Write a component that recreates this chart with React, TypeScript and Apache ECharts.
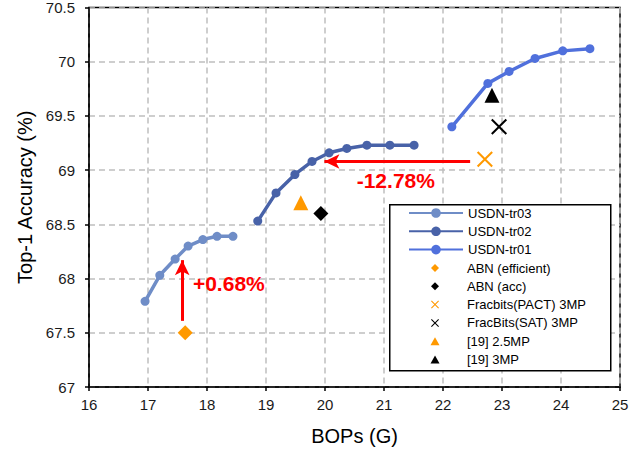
import React, { useEffect, useRef } from "react";
import * as echarts from "echarts";

// ---- data ----
const tr03X = [16.95, 17.2, 17.46, 17.68, 17.93, 18.17, 18.44];
const tr03Y = [67.79, 68.03, 68.18, 68.3, 68.36, 68.39, 68.39];
const tr02X = [18.86, 19.17, 19.49, 19.78, 20.07, 20.37, 20.71, 21.1, 21.51];
const tr02Y = [68.53, 68.79, 68.96, 69.08, 69.16, 69.2, 69.23, 69.23, 69.23];
const tr01X = [22.15, 22.76, 23.12, 23.56, 24.03, 24.49];
const tr01Y = [69.4, 69.8, 69.91, 70.03, 70.1, 70.12];

const abnEfficient = [17.63, 67.5];
const abnAcc = [19.93, 68.6];
const fracPact = [22.71, 69.1];
const fracSat = [22.95, 69.4];
const ref19_25 = [19.59, 68.7];
const ref19_3 = [22.83, 69.69];

const upArrow = [[17.58, 67.61], [17.58, 68.17]];
const leftArrow = [[22.46, 69.08], [19.99, 69.08]];
const upLabel = { text: "+0.68%", at: [18.37, 67.95] };
const leftLabel = { text: "-12.78%", at: [21.2, 68.9] };

const xTicks = { min: 16, max: 25, interval: 1 };
const yTicks = { min: 67, max: 70.5, interval: 0.5 };

const FONT = "Arial, 'Liberation Sans', sans-serif";
const ORANGE = "#FF9900";
const RED = "#FF0000";
const CROSS =
  "path://M0,0.9 L0.9,0 L5,4.1 L9.1,0 L10,0.9 L5.9,5 L10,9.1 L9.1,10 L5,5.9 L0.9,10 L0,9.1 L4.1,5 Z";

// legend icons drawn inside the full 54x8 legend icon box (corner anchors keep the aspect)
const BOX = "M0,0 M54,8 ";
const LEG_DIAMOND = "path://" + BOX + "M27,0 L31,4 L27,8 L23,4 Z";
const LEG_TRIANGLE = "path://" + BOX + "M27,0 L31.5,8 L22.5,8 Z";
const LEG_CROSS =
  "path://" +
  BOX +
  "M23,0.75 L23.75,0 L27,3.25 L30.25,0 L31,0.75 L27.75,4 L31,7.25 L30.25,8 L27,4.75 L23.75,8 L23,7.25 L26.25,4 Z";

const zip = (xs: number[], ys: number[]) => xs.map((x, i) => [x, ys[i]]);

export default function App() {
  const ref = useRef<HTMLDivElement>(null);
  useEffect(() => {
    if (!ref.current) return;
    const chart = echarts.init(ref.current, null, { renderer: "svg" });
    const lineSeries = (name: string, xs: number[], ys: number[], color: string) => ({
      name,
      type: "line",
      data: zip(xs, ys),
      symbol: "circle",
      symbolSize: 9,
      lineStyle: { width: 3.5, color },
      itemStyle: { color },
      z: 3,
    });
    const scatter = (name: string, pt: number[], symbol: string, size: number, color: string) => ({
      name,
      type: "scatter",
      data: [pt],
      symbol,
      symbolSize: size,
      itemStyle: { color, opacity: 1 },
      z: 4,
    });
    const legendText = { fontFamily: FONT, fontSize: 13, color: "#000" };
    chart.setOption({
      animation: false,
      backgroundColor: "#fff",
      grid: {
        left: 89,
        right: 23,
        top: 6,
        bottom: 65,
        show: true,
        borderColor: "#000",
        borderWidth: 1.5,
      },
      xAxis: {
        type: "value",
        ...xTicks,
        name: "BOPs (G)",
        nameLocation: "middle",
        nameGap: 39,
        nameTextStyle: { fontFamily: FONT, fontSize: 20, color: "#000" },
        axisLine: { lineStyle: { color: "#000", width: 1.5 } },
        axisTick: { show: true, length: 4, lineStyle: { color: "#000", width: 1.5 } },
        axisLabel: { fontFamily: FONT, fontSize: 15, color: "#1a1a1a", margin: 10 },
        splitLine: { show: true, lineStyle: { color: "#BFBFBF", width: 1.5, type: [6, 4] } },
      },
      yAxis: {
        type: "value",
        ...yTicks,
        name: "Top-1 Accuracy (%)",
        nameLocation: "middle",
        nameGap: 52,
        nameTextStyle: { fontFamily: FONT, fontSize: 20, color: "#000" },
        axisLine: { lineStyle: { color: "#000", width: 1.5 } },
        axisTick: { show: true, length: 4, lineStyle: { color: "#000", width: 1.5 } },
        axisLabel: { fontFamily: FONT, fontSize: 15, color: "#1a1a1a", margin: 14 },
        splitLine: { show: true, lineStyle: { color: "#BFBFBF", width: 1.5, type: [6, 4] } },
      },
      graphic: [
        {
          type: "rect",
          left: 389,
          top: 204,
          shape: { width: 221, height: 166 },
          style: { fill: "#fff", stroke: "#000", lineWidth: 1.5 },
          z: 3,
        },
      ],
      legend: [
        {
          orient: "vertical",
          left: 408,
          top: 206.5,
          padding: 0,
          itemWidth: 54,
          itemHeight: 12,
          itemGap: 5.3,
          selectedMode: false,
          textStyle: legendText,
          data: ["USDN-tr03", "USDN-tr02", "USDN-tr01"],
          z: 5,
        },
        {
          orient: "vertical",
          left: 408,
          top: 261.5,
          padding: 0,
          itemWidth: 54,
          itemHeight: 8,
          itemGap: 5.3,
          selectedMode: false,
          textStyle: legendText,
          itemStyle: { opacity: 1 },
          data: [
            { name: "ABN (efficient)", icon: LEG_DIAMOND },
            { name: "ABN (acc)", icon: LEG_DIAMOND },
            { name: "Fracbits(PACT) 3MP", icon: LEG_CROSS },
            { name: "FracBits(SAT) 3MP", icon: LEG_CROSS },
            { name: "[19] 2.5MP", icon: LEG_TRIANGLE },
            { name: "[19] 3MP", icon: LEG_TRIANGLE },
          ],
          z: 5,
        },
      ],
      series: [
        lineSeries("USDN-tr03", tr03X, tr03Y, "#6F8DC7"),
        lineSeries("USDN-tr02", tr02X, tr02Y, "#4862A8"),
        lineSeries("USDN-tr01", tr01X, tr01Y, "#5070DC"),
        scatter("ABN (efficient)", abnEfficient, "diamond", 15, ORANGE),
        scatter("ABN (acc)", abnAcc, "diamond", 15, "#000"),
        scatter("Fracbits(PACT) 3MP", fracPact, CROSS, 16, ORANGE),
        scatter("FracBits(SAT) 3MP", fracSat, CROSS, 16, "#000"),
        scatter("[19] 2.5MP", ref19_25, "triangle", 15, ORANGE),
        scatter("[19] 3MP", ref19_3, "triangle", 15, "#000"),
        {
          name: "annotations",
          type: "line",
          data: [],
          silent: true,
          z: 5,
          markLine: {
            silent: true,
            symbol: ["none", "arrow"],
            symbolSize: [11, 15],
            label: { show: false },
            lineStyle: { color: RED, width: 3, type: "solid" },
            data: [
              [{ coord: upArrow[0] }, { coord: upArrow[1] }],
              [{ coord: leftArrow[0] }, { coord: leftArrow[1] }],
            ],
          },
          markPoint: {
            silent: true,
            symbol: "circle",
            symbolSize: 1,
            itemStyle: { color: "rgba(0,0,0,0)" },
            label: {
              show: true,
              position: "inside",
              fontFamily: FONT,
              fontSize: 21,
              fontWeight: "bold",
              color: RED,
              formatter: (p: any) => p.name,
            },
            data: [
              { name: upLabel.text, coord: upLabel.at },
              { name: leftLabel.text, coord: leftLabel.at },
            ],
          },
        },
      ],
    });
    return () => chart.dispose();
  }, []);
  return (
    <div
      ref={ref}
      style={{ position: "fixed", left: 0, top: 0, width: 643, height: 452, background: "#fff" }}
    />
  );
}
